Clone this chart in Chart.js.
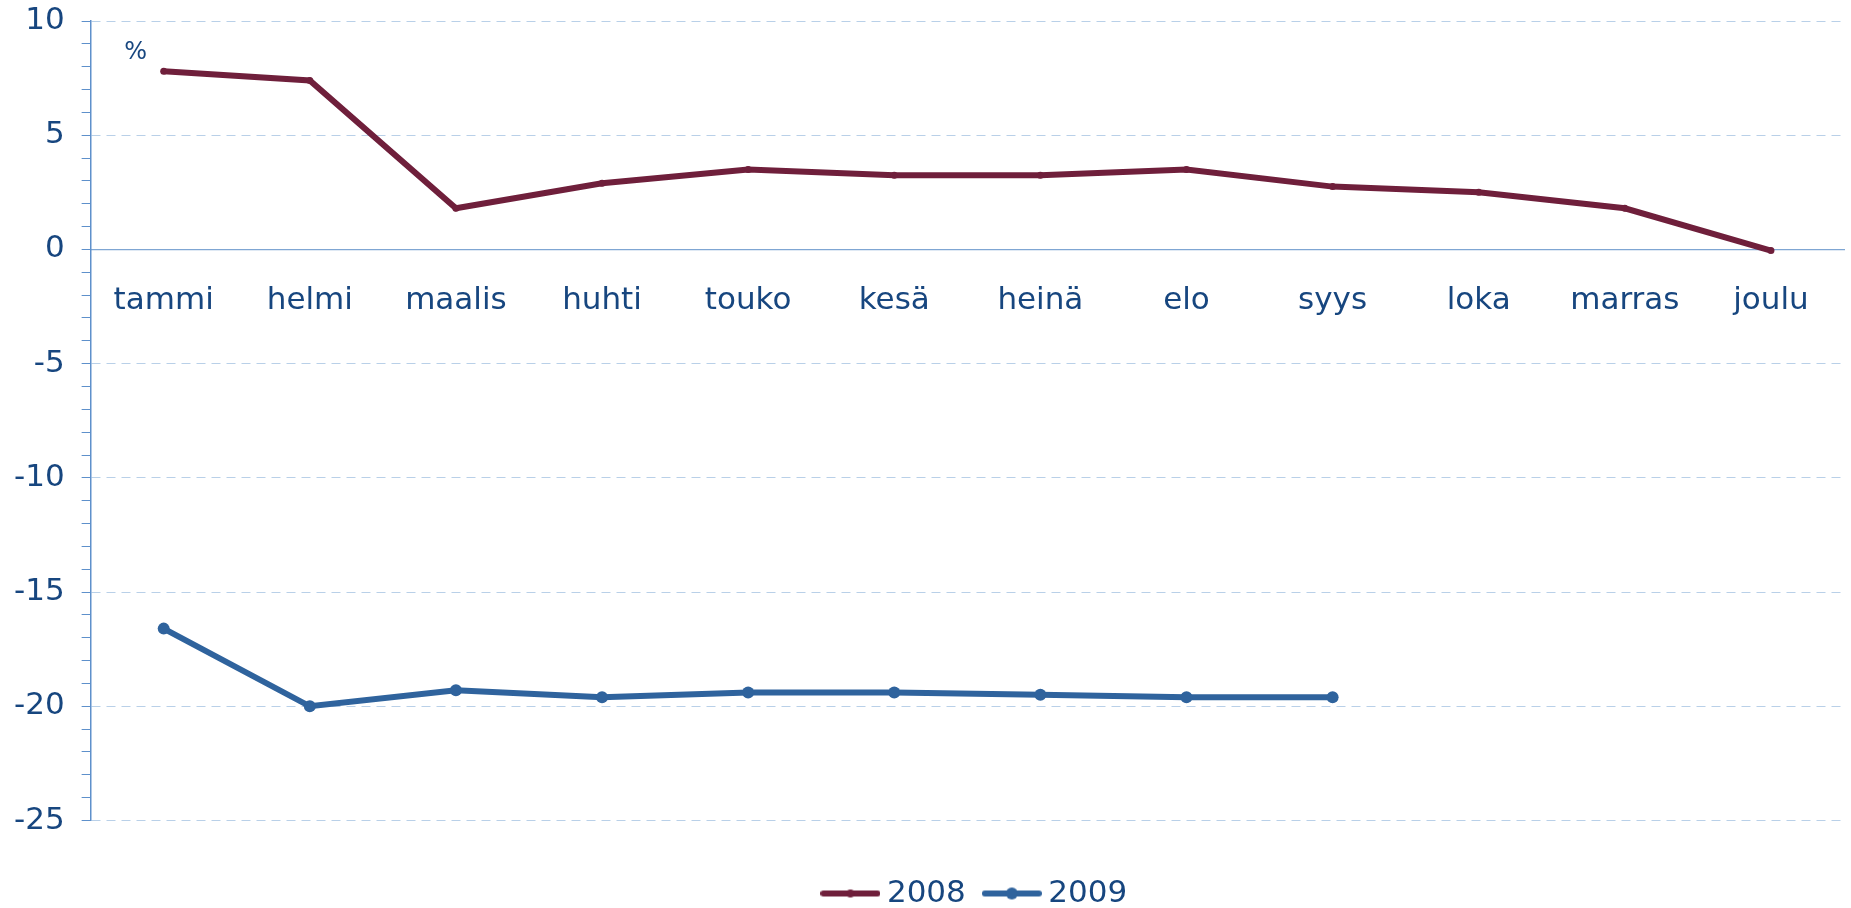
<!DOCTYPE html>
<html>
<head>
<meta charset="utf-8">
<script src="https://cdn.jsdelivr.net/npm/chart.js@4"></script>
<style>
  html, body { margin: 0; padding: 0; background: #fff; }
  #wrap { width: 1851px; height: 908px; position: relative; }
</style>
</head>
<body>
<div id="wrap"><canvas id="kuvio"></canvas></div>
<script>
// Kuukaudet ja vuosimuutokset (%)
const kuukaudet = ['tammi', 'helmi', 'maalis', 'huhti', 'touko', 'kesä', 'heinä', 'elo', 'syys', 'loka', 'marras', 'joulu'];
const arvot2008 = [7.8, 7.4, 1.8, 2.9, 3.5, 3.25, 3.25, 3.5, 2.75, 2.5, 1.8, -0.05];
const arvot2009 = [-16.6, -20.0, -19.3, -19.6, -19.4, -19.4, -19.5, -19.6, -19.6];
const yMin = -25;
const yMax = 10;

const tekstiVari = '#17467f';
const vari2008 = '#6f1f3b';
const vari2009 = '#2f639d';
const fontti = 'DejaVu Sans';

// Selitteen symboli: viiva ja piste
function selitesymboli(vari, sade) {
    const c = document.createElement('canvas');
    c.width = 60;
    c.height = 14;
    const g = c.getContext('2d');
    g.strokeStyle = vari;
    g.lineWidth = 6;
    g.lineCap = 'round';
    g.beginPath();
    g.moveTo(3, 7);
    g.lineTo(57, 7);
    g.stroke();
    g.fillStyle = vari;
    g.beginPath();
    g.arc(30, 7, sade, 0, Math.PI * 2);
    g.fill();
    return c;
}
const symbolit = [selitesymboli(vari2008, 4), selitesymboli(vari2009, 6)];

// Prosenttimerkki kuvan vasempaan yläkulmaan
const prosenttiPlugin = {
    id: 'prosentti',
    afterDraw(chart) {
        const y = chart.scales.y;
        const ctx = chart.ctx;
        ctx.save();
        ctx.fillStyle = tekstiVari;
        ctx.font = '24px "' + fontti + '"';
        ctx.textAlign = 'center';
        ctx.textBaseline = 'middle';
        ctx.fillText('%', chart.chartArea.left + 45, y.getPixelForValue(8.6));
        ctx.restore();
    }
};

// Siirretään selitettä hieman oikealle
const seliteSiirto = {
    id: 'seliteSiirto',
    afterLayout(chart) {
        if (chart.legend) {
            chart.legend.left += 11;
            chart.legend.right += 11;
        }
    }
};

const data = {
    labels: kuukaudet,
    datasets: [{
        label: '2008',
        data: arvot2008,
        borderColor: vari2008,
        backgroundColor: vari2008,
        borderWidth: 6,
        pointRadius: 3.5,
        pointBorderWidth: 0,
        pointHoverRadius: 4,
        tension: 0,
        fill: false
    }, {
        label: '2009',
        data: arvot2009,
        borderColor: vari2009,
        backgroundColor: vari2009,
        borderWidth: 6,
        pointRadius: 6,
        pointBorderWidth: 0,
        pointHoverRadius: 7,
        tension: 0,
        fill: false
    }]
};

const config = {
    type: 'line',
    data: data,
    options: {
        responsive: true,
        maintainAspectRatio: false,
        animation: false,
        layout: {
            padding: { left: -3, right: 0, top: 0, bottom: -11 }
        },
        scales: {
            x: {
                position: { y: 0 },
                offset: true,
                grid: { display: false, drawTicks: false },
                border: { display: true, color: '#7fa6d3', width: 1.2 },
                ticks: {
                    color: tekstiVari,
                    font: { family: fontti, size: 31 },
                    padding: 33,
                    autoSkip: false,
                    maxRotation: 0
                }
            },
            y: {
                min: yMin,
                max: yMax,
                afterFit: function (scale) {
                    scale.paddingTop = 21;
                },
                grid: {
                    color: function (c) {
                        return c.tick && c.tick.value % 5 === 0 ? '#b9d0e8' : 'rgba(0,0,0,0)';
                    },
                    lineWidth: 1,
                    tickColor: '#5e90cb',
                    tickBorderDash: [],
                    tickLength: 9,
                    tickWidth: 1
                },
                border: { display: true, color: '#5e90cb', width: 1.5, dash: [9, 6] },
                ticks: {
                    stepSize: 1,
                    autoSkip: false,
                    color: tekstiVari,
                    font: { family: fontti, size: 31 },
                    padding: 17,
                    callback: function (v) {
                        return v % 5 === 0 ? String(v) : '';
                    }
                }
            }
        },
        plugins: {
            legend: {
                display: true,
                position: 'bottom',
                fullSize: false,
                title: { display: true, text: '', font: { size: 10 }, padding: { top: 0, bottom: 20.5 } },
                labels: {
                    color: tekstiVari,
                    font: { family: fontti, size: 31 },
                    usePointStyle: true,
                    pointStyleWidth: 42,
                    padding: 25,
                    generateLabels: function (chart) {
                        const oletus = Chart.defaults.plugins.legend.labels.generateLabels(chart);
                        return oletus.map(function (item, i) {
                            item.pointStyle = symbolit[i];
                            return item;
                        });
                    }
                }
            },
            tooltip: { enabled: false }
        }
    },
    plugins: [prosenttiPlugin, seliteSiirto]
};

new Chart(document.getElementById('kuvio'), config);
</script>
</body>
</html>
